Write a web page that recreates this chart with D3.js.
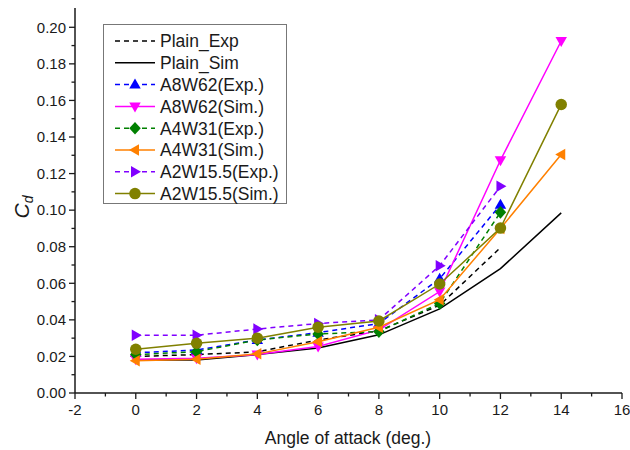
<!DOCTYPE html>
<html>
<head>
<meta charset="utf-8">
<script src="https://cdn.jsdelivr.net/npm/d3@7"></script>
<style>
  body { margin: 0; background: #fff; }
  text { font-family: "Liberation Sans", Arial, sans-serif; fill: #1a1a1a; }
</style>
</head>
<body>
<svg id="chart" width="630" height="450"></svg>
<script>
// Drag coefficient vs angle of attack for plain and modified configurations
const angles = [0, 2, 4, 6, 8, 10, 12, 14];
const xTicks = [-2, 0, 2, 4, 6, 8, 10, 12, 14, 16];
const yTicks = [0.00, 0.02, 0.04, 0.06, 0.08, 0.10, 0.12, 0.14, 0.16, 0.18, 0.20];

const seriesNames = ["Plain_Exp", "Plain_Sim", "A8W62(Exp.)", "A8W62(Sim.)",
                     "A4W31(Exp.)", "A4W31(Sim.)", "A2W15.5(Exp.)", "A2W15.5(Sim.)"];
const plainExp  = [0.020, 0.021, 0.0225, 0.029, 0.034, 0.048, 0.0795];
const plainSim  = [0.018, 0.018, 0.021, 0.0246, 0.0318, 0.046, 0.068, 0.0985];
const a8Exp     = [0.022, 0.0235, 0.029, 0.033, 0.038, 0.0625, 0.103];
const a8Sim     = [0.0185, 0.019, 0.021, 0.0254, 0.0345, 0.0555, 0.1273, 0.1925];
const a4Exp     = [0.021, 0.0226, 0.029, 0.0323, 0.0336, 0.049, 0.0988];
const a4Sim     = [0.0177, 0.0185, 0.0214, 0.028, 0.036, 0.051, 0.090, 0.1304];
const a2Exp     = [0.0316, 0.0316, 0.035, 0.038, 0.040, 0.0696, 0.113];
const a2Sim     = [0.0239, 0.0272, 0.030, 0.036, 0.0394, 0.0596, 0.0902, 0.1578];

const seriesValues = [plainExp, plainSim, a8Exp, a8Sim, a4Exp, a4Sim, a2Exp, a2Sim];
const seriesColors = ["#000000", "#000000", "#0000ff", "#ff00ff", "#008000", "#ff8000", "#8000ff", "#808000"];
const seriesDashed = [true, false, true, false, true, false, true, false];
const seriesMarkers = [null, null, "up", "down", "diamond", "left", "right", "circle"];

const svg = d3.select("#chart");
const x = d3.scaleLinear().domain([-2, 16]).range([75, 622]);
const y = d3.scaleLinear().domain([0, 0.21]).range([393, 9]);

// marker shapes centred on (0,0)
function markerPath(type, s) {
  const h = s * 0.87;
  switch (type) {
    case "up":    return `M0,${-h*0.6}L${s/2},${h*0.4}L${-s/2},${h*0.4}Z`;
    case "down":  return `M0,${h*0.6}L${s/2},${-h*0.4}L${-s/2},${-h*0.4}Z`;
    case "left":  return `M${-h*0.6},0L${h*0.4},${s/2}L${h*0.4},${-s/2}Z`;
    case "right": return `M${h*0.6},0L${-h*0.4},${s/2}L${-h*0.4},${-s/2}Z`;
    case "diamond": return `M0,${-s*0.55}L${s*0.5},0L0,${s*0.55}L${-s*0.5},0Z`;
    case "circle": { const r = s * 0.5;
      return `M${r},0A${r},${r} 0 1,1 ${-r},0A${r},${r} 0 1,1 ${r},0Z`; }
  }
  return "";
}

// axes
const axisColor = "#1a1a1a";
const xAxis = svg.append("g").attr("transform", "translate(0,393)");
xAxis.append("line").attr("x1", 75).attr("x2", 622).attr("stroke", axisColor).attr("stroke-width", 1.5);
d3.range(-2, 16.01, 1).forEach(v => {
  const major = v % 2 === 0;
  xAxis.append("line").attr("x1", x(v)).attr("x2", x(v)).attr("y1", 0).attr("y2", major ? 6 : 3.5)
    .attr("stroke", axisColor).attr("stroke-width", 1.3);
});
xAxis.selectAll("text.tick").data(xTicks).join("text")
  .attr("x", d => x(d)).attr("y", 22).attr("text-anchor", "middle")
  .attr("font-size", 15).text(d => d);

const yAxis = svg.append("g").attr("transform", "translate(75,0)");
yAxis.append("line").attr("y1", 393).attr("y2", 8).attr("stroke", axisColor).attr("stroke-width", 1.5);
d3.range(0, 21, 1).forEach(i => {
  const major = i % 2 === 0;
  yAxis.append("line").attr("x1", 0).attr("x2", major ? -6 : -3.5)
    .attr("y1", y(i / 100)).attr("y2", y(i / 100)).attr("stroke", axisColor).attr("stroke-width", 1.3);
});
yAxis.selectAll("text.tick").data(yTicks).join("text")
  .attr("x", -9).attr("y", d => y(d)).attr("dy", "0.35em").attr("text-anchor", "end")
  .attr("font-size", 15).text(d => d.toFixed(2));

// axis titles
svg.append("text").attr("x", 348).attr("y", 444).attr("text-anchor", "middle")
  .attr("font-size", 17.5).text("Angle of attack (deg.)");
const yTitle = svg.append("text").attr("transform", "translate(29,207) rotate(-90)")
  .attr("text-anchor", "middle").attr("font-size", 21).attr("font-style", "italic");
yTitle.append("tspan").text("C");
yTitle.append("tspan").attr("font-size", 14).attr("dy", 4).text("d");

// series
const line = d3.line().x(d => x(d[0])).y(d => y(d[1]));
seriesValues.forEach((vals, i) => {
  const pts = vals.map((v, j) => [angles[j], v]);
  const g = svg.append("g");
  g.append("path").attr("d", line(pts)).attr("fill", "none")
    .attr("stroke", seriesColors[i]).attr("stroke-width", 1.5)
    .attr("stroke-dasharray", seriesDashed[i] ? "5,4" : null);
  if (seriesMarkers[i]) {
    g.selectAll("path.m").data(pts).join("path")
      .attr("transform", d => `translate(${x(d[0])},${y(d[1])})`)
      .attr("d", markerPath(seriesMarkers[i], 11.5))
      .attr("fill", seriesColors[i]);
  }
});

// legend
const lg = svg.append("g");
lg.append("rect").attr("x", 103.5).attr("y", 24.5).attr("width", 183).attr("height", 179)
  .attr("fill", "#fff").attr("stroke", "#777").attr("stroke-width", 1);
seriesNames.forEach((name, i) => {
  const cy = 41 + i * 21.8;
  lg.append("line").attr("x1", 115).attr("x2", 155).attr("y1", cy).attr("y2", cy)
    .attr("stroke", seriesColors[i]).attr("stroke-width", 1.5)
    .attr("stroke-dasharray", seriesDashed[i] ? "5,4" : null);
  if (seriesMarkers[i]) {
    lg.append("path").attr("transform", `translate(135,${cy})`)
      .attr("d", markerPath(seriesMarkers[i], 11.5)).attr("fill", seriesColors[i]);
  }
  lg.append("text").attr("x", 160).attr("y", cy).attr("dy", "0.36em")
    .attr("font-size", 17.5).text(name);
});
</script>
</body>
</html>
